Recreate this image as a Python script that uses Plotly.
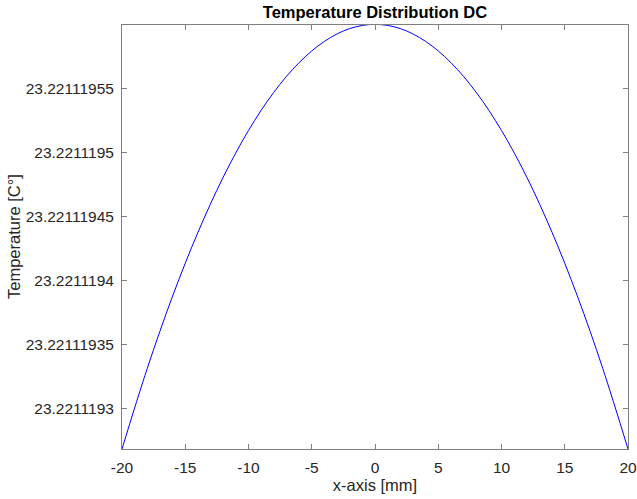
import plotly.graph_objects as go

# Position along the conductor [mm]
x_mm = [-20, -18, -16, -14, -12, -10, -8, -6, -4, -2, 0,
        2, 4, 6, 8, 10, 12, 14, 16, 18, 20]

# Steady-state (DC) temperature [C°]
temperature = [
    23.2211192682, 23.2211193313, 23.2211193877, 23.2211194374, 23.2211194806,
    23.2211195171, 23.2211195469, 23.2211195701, 23.2211195867, 23.2211195967,
    23.2211196000,
    23.2211195967, 23.2211195867, 23.2211195701, 23.2211195469, 23.2211195171,
    23.2211194806, 23.2211194374, 23.2211193877, 23.2211193313, 23.2211192682,
]

x_ticks = [-20, -15, -10, -5, 0, 5, 10, 15, 20]
y_ticks = [23.2211193, 23.22111935, 23.2211194, 23.22111945, 23.2211195, 23.22111955]
y_tick_labels = ["23.2211193", "23.22111935", "23.2211194",
                 "23.22111945", "23.2211195", "23.22111955"]

TEXT = "#262626"
AXIS = "#7f7f7f"
FONT = "Liberation Sans, Arial, Helvetica, sans-serif"

fig = go.Figure(
    go.Scatter(
        x=x_mm,
        y=temperature,
        mode="lines",
        line=dict(color="rgb(0,0,255)", width=1, shape="spline", smoothing=1.0),
        hoverinfo="x+y",
    )
)

fig.update_layout(
    width=637,
    height=499,
    margin=dict(l=122, r=9, t=25, b=50, autoexpand=False),
    paper_bgcolor="white",
    plot_bgcolor="white",
    showlegend=False,
    font=dict(family=FONT, color=TEXT, size=15.5),
    title=dict(
        text="<b>Temperature Distribution DC</b>",
        x=(122 + 628) / 2 / 637,
        xanchor="center",
        y=1 - 12 / 499,
        yanchor="middle",
        font=dict(family=FONT, size=16.5, color="black"),
    ),
    # y-axis label placed as a rotated annotation left of the tick labels
    annotations=[
        dict(
            text="Temperature [C°]",
            xref="paper",
            yref="paper",
            x=(14 - 122) / 506,
            y=0.5,
            xanchor="center",
            yanchor="middle",
            textangle=-90,
            showarrow=False,
            font=dict(family=FONT, size=16.5, color=TEXT),
        )
    ],
)

fig.update_xaxes(
    range=[-20, 20],
    tickvals=x_ticks,
    ticktext=[str(v) for v in x_ticks],
    ticks="inside",
    ticklen=5,
    tickcolor=AXIS,
    tickwidth=1,
    showline=True,
    linecolor=AXIS,
    linewidth=1,
    mirror="allticks",
    showgrid=False,
    zeroline=False,
    automargin=False,
    ticklabelstandoff=4,
    tickfont=dict(size=15.5, color=TEXT),
    title=dict(text="x-axis [mm]", font=dict(size=16.5, color=TEXT), standoff=4),
)

fig.update_yaxes(
    range=[23.22111926822, 23.2211195995],
    tickvals=y_ticks,
    ticktext=y_tick_labels,
    ticks="inside",
    ticklen=5,
    tickcolor=AXIS,
    tickwidth=1,
    showline=True,
    linecolor=AXIS,
    linewidth=1,
    mirror="allticks",
    showgrid=False,
    zeroline=False,
    automargin=False,
    ticklabelstandoff=4,
    tickfont=dict(size=15.5, color=TEXT),
)

fig.write_html("out.html")
